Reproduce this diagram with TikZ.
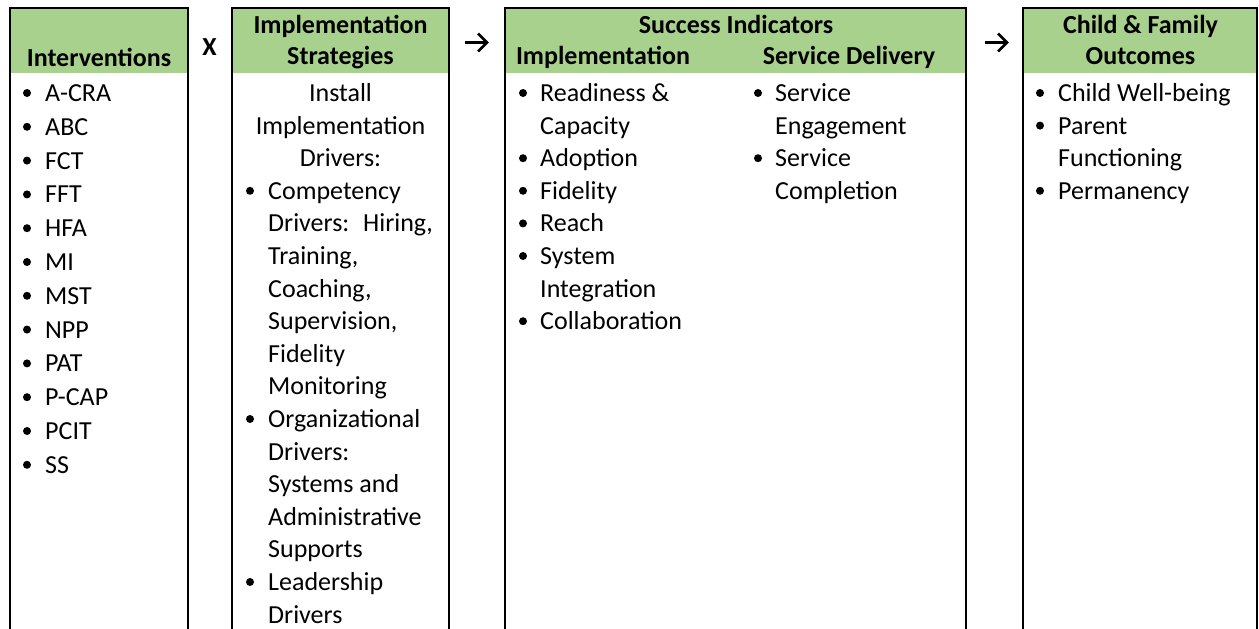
\documentclass[tikz,border=0pt]{standalone}
\usepackage{fontspec}
\setmainfont{Carlito}
\usetikzlibrary{arrows.meta}
\definecolor{hdrgreen}{RGB}{169,209,142}
\begin{document}
\begin{tikzpicture}[x=1pt,y=-1pt,
  boxframe/.style={line width=2pt,draw=black},
  hdr/.style={font=\fontsize{26}{30}\selectfont\bfseries,anchor=base,inner sep=0pt},
  item/.style={font=\fontsize{26}{32}\selectfont,anchor=base west,inner sep=0pt},
  ctritem/.style={font=\fontsize{26}{32}\selectfont,anchor=base,inner sep=0pt},
  arrowsty/.style={line width=2.6pt,line cap=butt,line join=miter}]
\useasboundingbox (0,0) rectangle (1259,629);
\def\ls{32.6}
\def\lsa{33.8}
\def\fy{101.5}
% boxes
\foreach \l/\r in {10/188,232/449,505/966,1023/1257}{
  \fill[hdrgreen] (\l,8) rectangle (\r,73);
  \draw[boxframe] (\l,629) -- (\l,8) -- (\r,8) -- (\r,629);
}
% headers
\node[hdr,name=h1] at (99,66) {Interventions};
\node[hdr,name=h2a] at (340.5,34) {Implementation};
\node[hdr,name=h2b] at (340.5,64) {Strategies};
\node[hdr,name=h3] at (736,34) {Success Indicators};
\node[hdr,name=h3a] at (603,64) {Implementation};
\node[hdr,name=h3b] at (849,64) {Service Delivery};
\node[hdr,name=h4a] at (1140.5,34) {Child \& Family};
\node[hdr,name=h4b] at (1140.5,64) {Outcomes};
% operators
\node[hdr,name=times] at (209.5,55) {X};
\coordinate (a1s) at (465,42.5); \coordinate (a1e) at (487,42.5);
\coordinate (a1u) at (478,33.5); \coordinate (a1d) at (478,51.5);
\draw[arrowsty] (a1s) -- (a1e);
\draw[arrowsty] (a1u) -- (a1e) -- (a1d);
\coordinate (a2s) at (985,42.5); \coordinate (a2e) at (1007,42.5);
\coordinate (a2u) at (998,33.5); \coordinate (a2d) at (998,51.5);
\draw[arrowsty] (a2s) -- (a2e);
\draw[arrowsty] (a2u) -- (a2e) -- (a2d);
% box 1
\foreach [count=\i] \b/\t in {1/A-CRA,1/ABC,1/FCT,1/FFT,1/HFA,1/MI,1/MST,1/NPP,1/PAT,1/P-CAP,1/PCIT,1/SS}{
  \pgfmathsetmacro\yy{\fy+(\i-1)*\lsa}
  \node[item,name=b1-\i] at (45,\yy) {\t};
  \ifnum\b=1 \fill (27,\yy-8.5) circle (4pt);\fi
}
% box 2
\foreach [count=\i] \t in {Install,Implementation,Drivers:}{
  \pgfmathsetmacro\yy{\fy+(\i-1)*\ls}
  \node[ctritem,name=b2c-\i] at (340.5,\yy) {\t};
}
\foreach [count=\i] \b/\t in {1/Competency,0/{Drivers:~ Hiring,},0/{Training,},0/{Coaching,},0/{Supervision,},0/Fidelity,0/Monitoring,1/Organizational,0/Drivers:,0/Systems and,0/Administrative,0/Supports,1/Leadership,0/Drivers}{
  \pgfmathsetmacro\yy{\fy+(\i+2)*\ls}
  \node[item,name=b2-\i] at (268,\yy) {\t};
  \ifnum\b=1 \fill (250,\yy-8.5) circle (4pt);\fi
}
% box 3 column 1
\foreach [count=\i] \b/\t in {1/Readiness \&,0/Capacity,1/Adoption,1/Fidelity,1/Reach,1/System,0/Integration,1/Collaboration}{
  \pgfmathsetmacro\yy{\fy+(\i-1)*\ls}
  \node[item,name=b3a-\i] at (540,\yy) {\t};
  \ifnum\b=1 \fill (523,\yy-8.5) circle (4pt);\fi
}
% box 3 column 2
\foreach [count=\i] \b/\t in {1/Service,0/Engagement,1/Service,0/Completion}{
  \pgfmathsetmacro\yy{\fy+(\i-1)*\ls}
  \node[item,name=b3b-\i] at (775,\yy) {\t};
  \ifnum\b=1 \fill (758,\yy-8.5) circle (4pt);\fi
}
% box 4
\foreach [count=\i] \b/\t in {1/Child Well-being,1/Parent,0/Functioning,1/Permanency}{
  \pgfmathsetmacro\yy{\fy+(\i-1)*\ls}
  \node[item,name=b4-\i] at (1058,\yy) {\t};
  \ifnum\b=1 \fill (1040,\yy-8.5) circle (4pt);\fi
}
\end{tikzpicture}
\end{document}
